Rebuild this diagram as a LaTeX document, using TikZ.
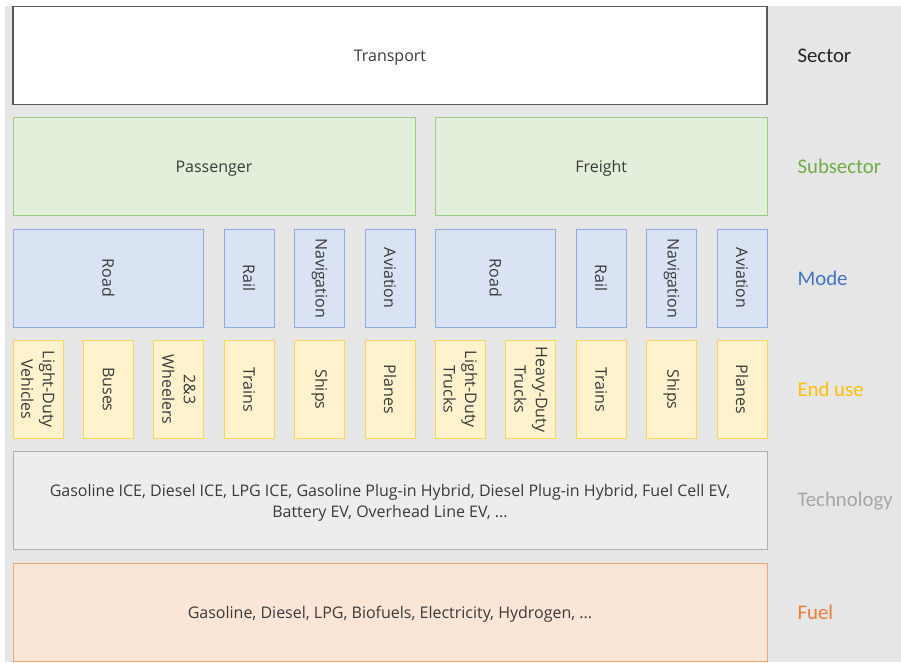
\documentclass[tikz,border=0pt]{standalone}
\usepackage{fontspec}
\setmainfont{Open Sans}
\newfontfamily\labelfont{Carlito}
\definecolor{bggray}{HTML}{E6E6E6}
\definecolor{txt}{HTML}{3A3A3A}
\definecolor{secline}{HTML}{595959}
\definecolor{subfill}{HTML}{E2EFDA}
\definecolor{subline}{HTML}{9DCB84}
\definecolor{subtxt}{HTML}{70AD47}
\definecolor{modefill}{HTML}{DAE3F3}
\definecolor{modeline}{HTML}{8FAADC}
\definecolor{modetxt}{HTML}{4472C4}
\definecolor{usefill}{HTML}{FFF2CC}
\definecolor{useline}{HTML}{FFD555}
\definecolor{usetxt}{HTML}{FFC000}
\definecolor{techfill}{HTML}{EDEDED}
\definecolor{techline}{HTML}{AFAFAF}
\definecolor{techtxt}{HTML}{A6A6A6}
\definecolor{fuelfill}{HTML}{FBE5D6}
\definecolor{fuelline}{HTML}{F4A46E}
\definecolor{fueltxt}{HTML}{ED7D31}
\tikzset{
  box/.style={draw, line width=1pt, minimum height=98pt, inner sep=2pt,
    text=txt, align=center, font=\fontsize{16}{21.5}\selectfont},
  flatbox/.style={box, text depth=0pt},
  sectorbox/.style={flatbox, fill=white, draw=secline, line width=1.3pt},
  subbox/.style={flatbox, fill=subfill, draw=subline},
  modebox/.style={box, fill=modefill, draw=modeline, rotate=-90},
  usebox/.style={box, fill=usefill, draw=useline, rotate=-90},
  techbox/.style={flatbox, fill=techfill, draw=techline},
  fuelbox/.style={flatbox, fill=fuelfill, draw=fuelline},
  level/.style={anchor=west, font=\labelfont\fontsize{20.8}{24}\selectfont},
}
\begin{document}
\begin{tikzpicture}[x=1pt, y=-1pt]
  \useasboundingbox (0,0) rectangle (901,662);
  \fill[bggray] (5,6) rectangle (901,662);

  % sector
  \node[sectorbox, minimum width=754pt] (transport) at (390,55.5) {Transport};

  % subsectors
  \node[subbox, minimum width=402pt] (passenger) at (214,166.8) {Passenger};
  \node[subbox, minimum width=331.6pt] (freight) at (601.2,166.8) {Freight};

  % modes (rotated: width is the vertical extent)
  \node[modebox, minimum width=98pt, minimum height=190.8pt] (proad) at (108.4,278.1) {Road};
  \node[modebox, minimum width=98pt, minimum height=50pt] (prail) at (249.2,278.1) {Rail};
  \node[modebox, minimum width=98pt, minimum height=50pt] (pnav) at (319.6,278.1) {Navigation};
  \node[modebox, minimum width=98pt, minimum height=50pt] (pavi) at (390,278.1) {Aviation};
  \node[modebox, minimum width=98pt, minimum height=120.4pt] (froad) at (495.6,278.1) {Road};
  \node[modebox, minimum width=98pt, minimum height=50pt] (frail) at (601.2,278.1) {Rail};
  \node[modebox, minimum width=98pt, minimum height=50pt] (fnav) at (671.6,278.1) {Navigation};
  \node[modebox, minimum width=98pt, minimum height=50pt] (favi) at (742,278.1) {Aviation};

  % end uses
  \node[usebox, minimum width=98pt, minimum height=50pt] (ldv) at (38,389.4) {Light-Duty\\Vehicles};
  \node[usebox, minimum width=98pt, minimum height=50pt] (bus) at (108.4,389.4) {Buses};
  \node[usebox, minimum width=98pt, minimum height=50pt] (twt) at (178.8,389.4) {2\&3\\Wheelers};
  \node[usebox, minimum width=98pt, minimum height=50pt] (ptrain) at (249.2,389.4) {Trains};
  \node[usebox, minimum width=98pt, minimum height=50pt] (pship) at (319.6,389.4) {Ships};
  \node[usebox, minimum width=98pt, minimum height=50pt] (pplane) at (390,389.4) {Planes};
  \node[usebox, minimum width=98pt, minimum height=50pt] (ldt) at (460.4,389.4) {Light-Duty\\Trucks};
  \node[usebox, minimum width=98pt, minimum height=50pt] (hdt) at (530.8,389.4) {Heavy-Duty\\Trucks};
  \node[usebox, minimum width=98pt, minimum height=50pt] (ftrain) at (601.2,389.4) {Trains};
  \node[usebox, minimum width=98pt, minimum height=50pt] (fship) at (671.6,389.4) {Ships};
  \node[usebox, minimum width=98pt, minimum height=50pt] (fplane) at (742,389.4) {Planes};

  % technologies and fuels
  \node[techbox, minimum width=754pt] (tech) at (390,500.7)
    {Gasoline ICE, Diesel ICE, LPG ICE, Gasoline Plug-in Hybrid, Diesel Plug-in Hybrid, Fuel Cell EV,\\Battery EV, Overhead Line EV, ...};
  \node[fuelbox, minimum width=754pt] (fuel) at (390,612)
    {Gasoline, Diesel, LPG, Biofuels, Electricity, Hydrogen, ...};

  % level labels
  \node[level, text=black!85] (lsector) at (794,55.5) {Sector};
  \node[level, text=subtxt] (lsub) at (794,166.8) {Subsector};
  \node[level, text=modetxt] (lmode) at (794,278.1) {Mode};
  \node[level, text=usetxt] (luse) at (794,389.4) {End use};
  \node[level, text=techtxt] (ltech) at (794,500.7) {Technology};
  \node[level, text=fueltxt] (lfuel) at (794,612) {Fuel};
\end{tikzpicture}
\end{document}
